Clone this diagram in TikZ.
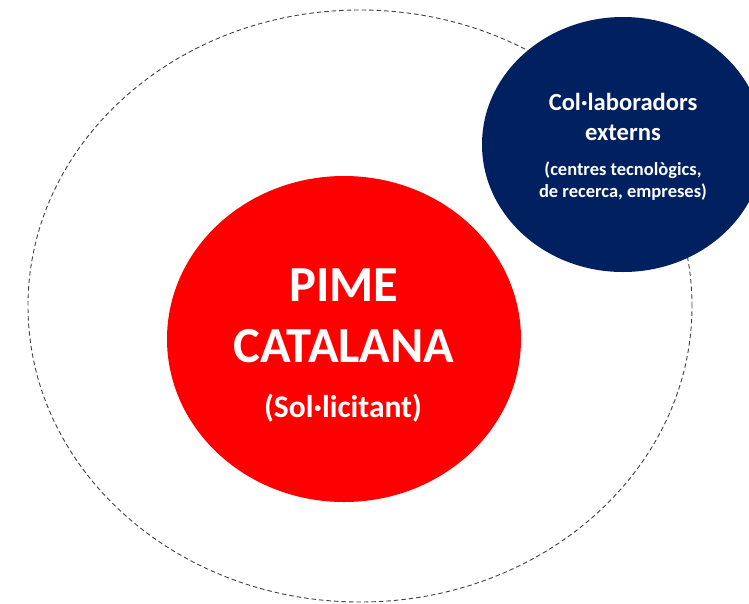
\documentclass[tikz,border=0pt]{standalone}
\usepackage{fontspec}
\setmainfont{Carlito}
\usetikzlibrary{shapes.geometric}
\definecolor{navyblue}{HTML}{002060}
\definecolor{pimered}{HTML}{FF0000}
\definecolor{dashgray}{HTML}{404040}
\tikzset{
  blob/.style={ellipse, inner sep=0pt, draw=none},
  wtext/.style={anchor=base, text=white, inner sep=0pt, font=\bfseries},
}
\begin{document}
\begin{tikzpicture}[x=1pt,y=-1pt]
\useasboundingbox (0,0) rectangle (749,603);
\clip (0,0) rectangle (749,603);
% outer dashed ellipse
\node[blob, draw=dashgray, line width=0.9pt, dash pattern=on 4.5pt off 3pt,
      minimum width=664pt, minimum height=592pt] (outer) at (360,306) {};
% red ellipse
\node[blob, fill=pimered, minimum width=354pt, minimum height=326pt] (pime) at (344,339) {};
% navy ellipse
\node[blob, fill=navyblue, minimum width=282pt, minimum height=255pt] (collab) at (623,144.5) {};
% texts in red
\node[wtext, font=\bfseries\fontsize{50.5}{60}\selectfont] (t1) at (344,301.7) {PIME};
\node[wtext, font=\bfseries\fontsize{50.5}{60}\selectfont] (t2) at (344,362) {CATALANA};
\node[wtext, font=\bfseries\fontsize{31.5}{38}\selectfont] (t3) at (343,417) {(Sol·licitant)};
% texts in navy
\node[wtext, font=\bfseries\fontsize{24.6}{30}\selectfont] (c1) at (623,110) {Col·laboradors};
\node[wtext, font=\bfseries\fontsize{24.6}{30}\selectfont] (c2) at (623,140) {externs};
\node[wtext, font=\bfseries\fontsize{18.5}{22}\selectfont] (c3) at (623,175) {(centres tecnològics,};
\node[wtext, font=\bfseries\fontsize{18.5}{22}\selectfont] (c4) at (623,197) {de recerca, empreses)};
\end{tikzpicture}
\end{document}
